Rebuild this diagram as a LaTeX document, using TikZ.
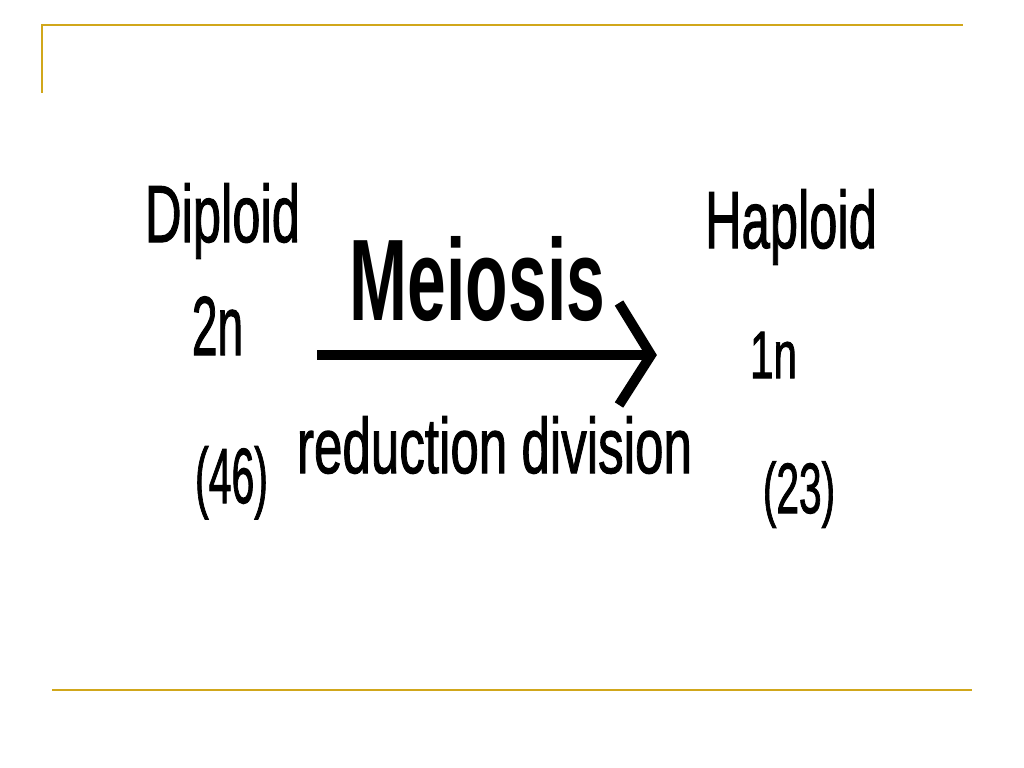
\documentclass[tikz,border=0pt]{standalone}
\usepackage{fontspec}
\setmainfont{Liberation Sans}
\newfontfamily\medfont[FakeBold=1.6]{Liberation Sans}
\usepackage{graphicx}
\definecolor{gold}{RGB}{209,167,27}
\tikzset{
  lbl/.style={inner sep=0pt, outer sep=0pt, anchor=base, text=black},
  rule/.style={draw=gold, line width=1.8pt},
  arrowline/.style={line width=7.1pt, black}
}
\newcommand{\sqz}[3]{\scalebox{#1}[1]{\fontsize{#2}{#2}\selectfont #3}}
\begin{document}
\begin{tikzpicture}[x=0.025cm,y=-0.025cm]
\useasboundingbox (0,0) rectangle (1024,768);
% gold frame lines
\draw[rule] (42,93) -- (42,25) -- (963,25);
\draw[rule] (52,690) -- (972,690);
% left column
\node[lbl] (diploid) at (222.5,242) {\sqz{0.626}{57.6pt}{\medfont Diploid}};
\node[lbl] (twon) at (217.5,355) {\sqz{0.55}{59.6pt}{\medfont 2n}};
\node[lbl] (n46) at (231.5,503) {\sqz{0.525}{55.6pt}{\medfont (46)}};
% middle
\node[lbl] (meiosis) at (477.5,320) {\sqz{0.6}{82.5pt}{\bfseries Meiosis}};
\node[lbl] (reduction) at (494.5,473) {\sqz{0.654}{55.6pt}{\medfont reduction division}};
% right column
\node[lbl] (haploid) at (791,248) {\sqz{0.626}{57.6pt}{\medfont Haploid}};
\node[lbl] (onen) at (773.5,378) {\sqz{0.63}{47.7pt}{\medfont 1n}};
\node[lbl] (n23) at (799,513) {\sqz{0.57}{50.7pt}{\medfont (23)}};
% arrow
\coordinate (astart) at (317,355);
\coordinate (atip) at (651,355);
\coordinate (bup) at (619,303);
\coordinate (bdown) at (619,405);
\draw[arrowline] (astart) -- (atip);
\draw[arrowline, line join=miter] (bup) -- (atip) -- (bdown);
\end{tikzpicture}
\end{document}
